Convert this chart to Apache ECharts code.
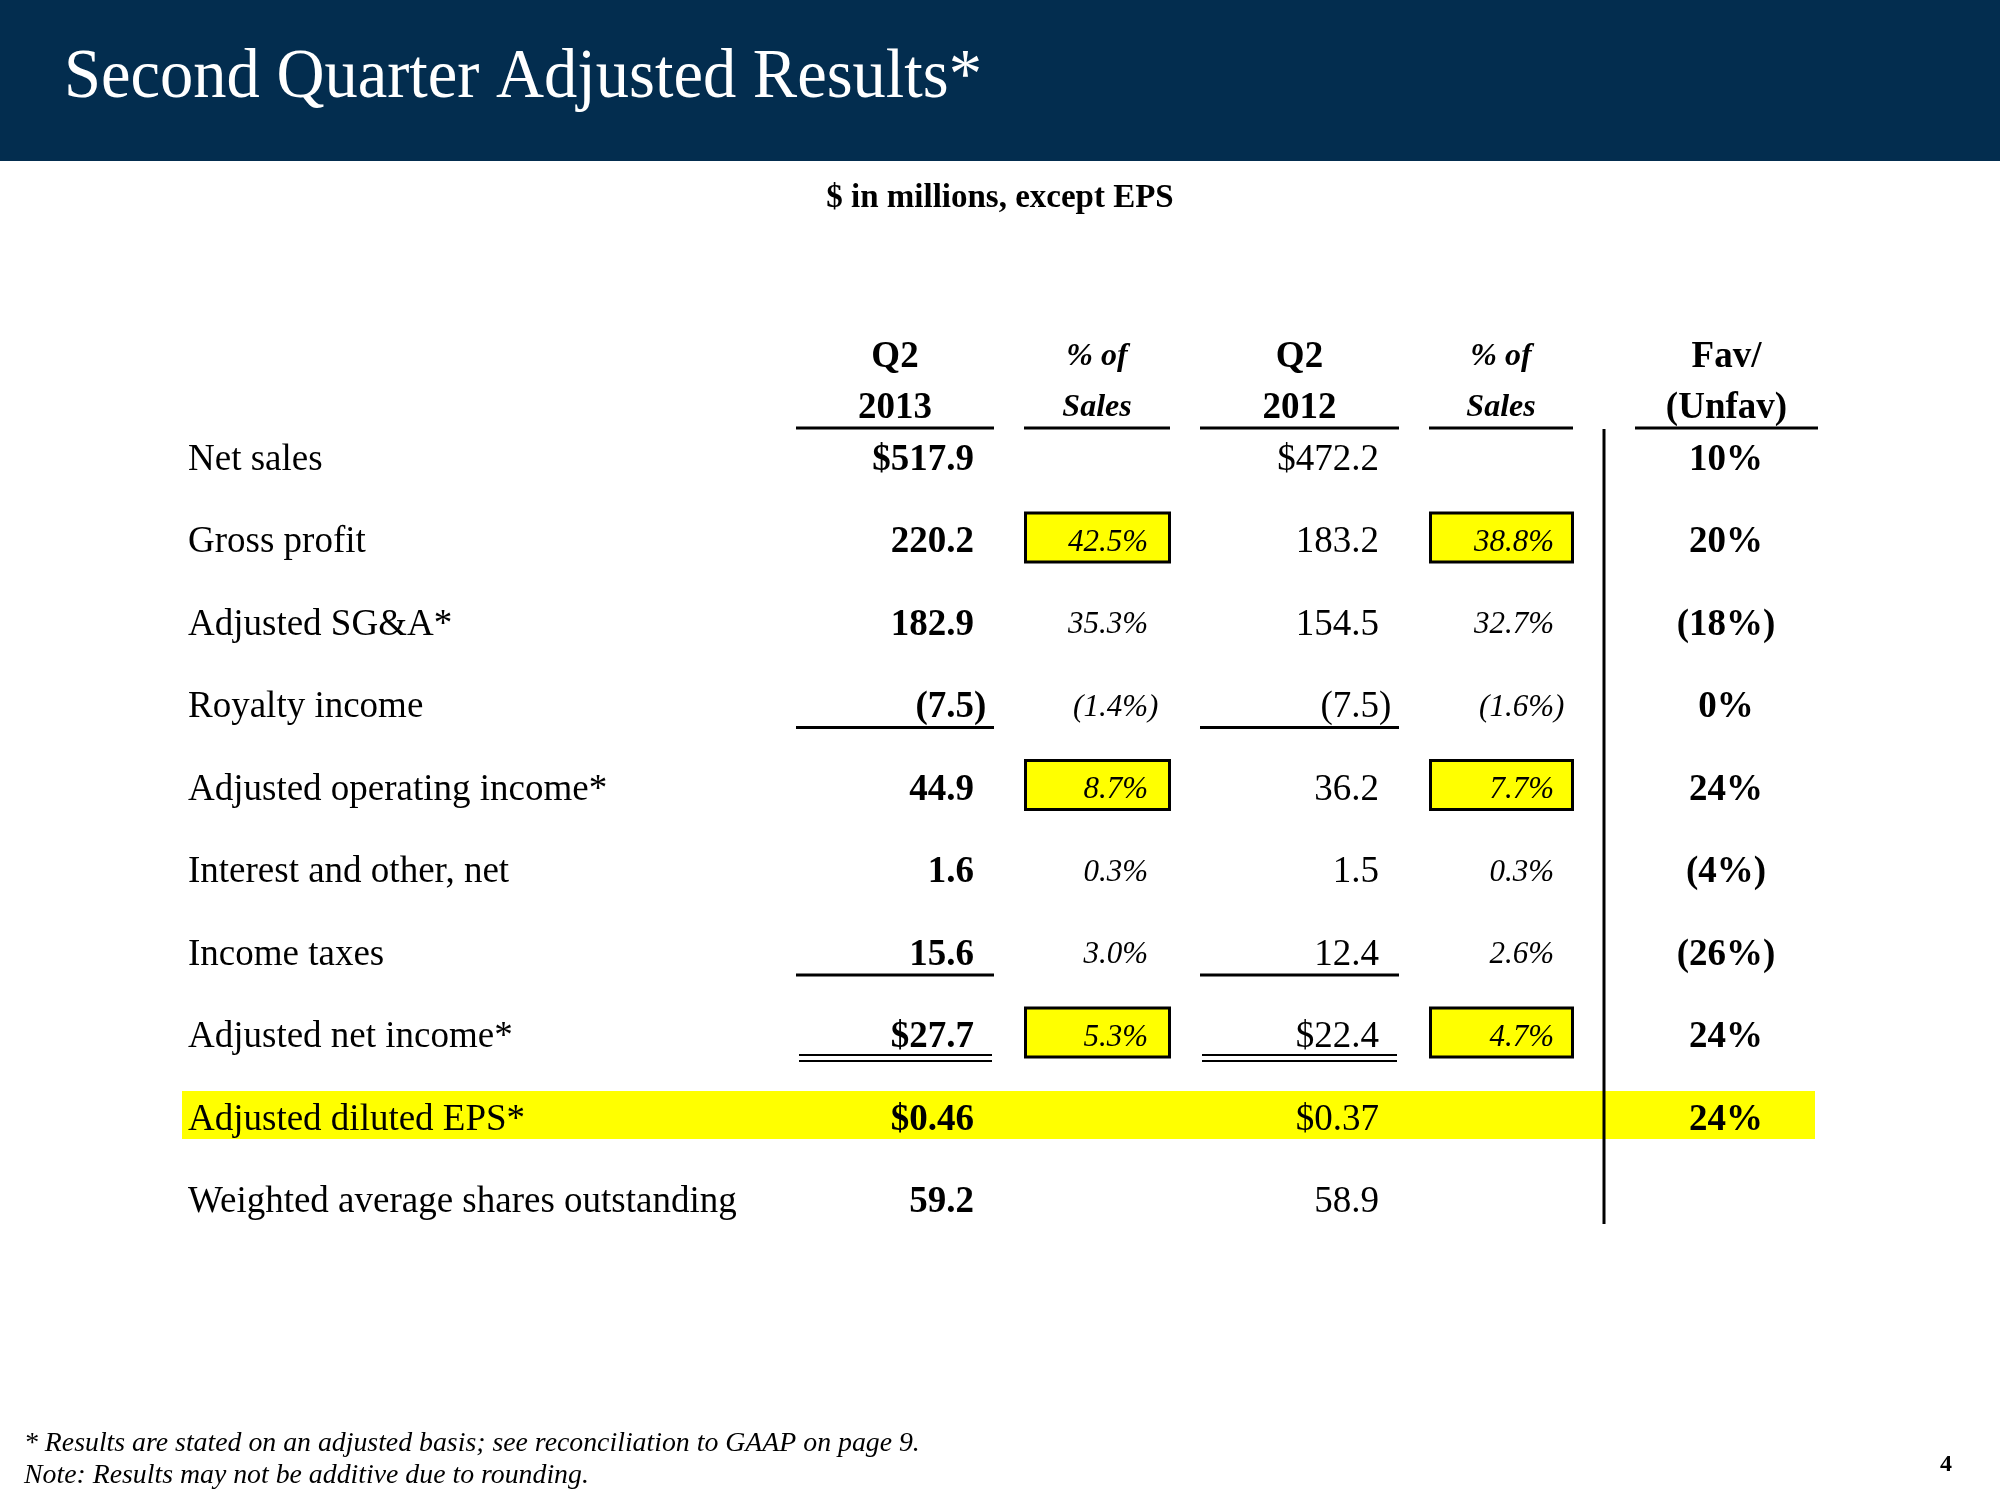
<!DOCTYPE html>
<html><head><meta charset="utf-8">
<script src="https://cdn.jsdelivr.net/npm/echarts@6/dist/echarts.min.js"></script>
<style>html,body{margin:0;padding:0;background:#fff}#c{width:2000px;height:1500px}</style>
</head><body><div id="c"></div>
<script>
// ---------- DATA ----------
const rowLabels = ['Net sales', 'Gross profit', 'Adjusted SG&A*', 'Royalty income',
  'Adjusted operating income*', 'Interest and other, net', 'Income taxes',
  'Adjusted net income*', 'Adjusted diluted EPS*', 'Weighted average shares outstanding'];
const q2013 = ['$517.9', '220.2', '182.9', '(7.5)', '44.9', '1.6', '15.6', '$27.7', '$0.46', '59.2'];
const pct2013 = ['', '42.5%', '35.3%', '(1.4%)', '8.7%', '0.3%', '3.0%', '5.3%', '', ''];
const q2012 = ['$472.2', '183.2', '154.5', '(7.5)', '36.2', '1.5', '12.4', '$22.4', '$0.37', '58.9'];
const pct2012 = ['', '38.8%', '32.7%', '(1.6%)', '7.7%', '0.3%', '2.6%', '4.7%', '', ''];
const favUnfav = ['10%', '20%', '(18%)', '0%', '24%', '(4%)', '(26%)', '24%', '24%', ''];
const columnHeaders = [['Q2', '2013'], ['% of', 'Sales'], ['Q2', '2012'], ['% of', 'Sales'], ['Fav/', '(Unfav)']];
const titleText = 'Second Quarter Adjusted Results*';
const subtitleText = '$ in millions, except EPS';
const footnotes = ['* Results are stated on an adjusted basis; see reconciliation to GAAP on page 9.',
  'Note: Results may not be additive due to rounding.'];
const pageNumber = '4';

// ---------- STYLE / LAYOUT ----------
const FF = "'Liberation Serif','Times New Roman',Times,serif";
const COL = { label: 188, q13: 974, p13: 1148, q12: 1379, p12: 1554, fav: 1726 };
const HEAD_SEG = [[796, 994], [1024, 1170], [1200, 1399], [1429, 1573], [1635, 1818]];
const BOXED = [1, 4, 7];
const SINGLE_RULE = [3, 6];
const DOUBLE_RULE = [7];
const BAND_ROW = 8;
const FS = 37, FS_PCT = 31;
const TY = 3; // text baseline nudge

function font(weight, style, size) { return style + ' ' + weight + ' ' + size + 'px ' + FF; }

function txt(x, y, text, f, align, size) {
  const off = (align === 'right' && /\)$/.test(text)) ? 0.333 * size : 0;
  return { type: 'text', x: x + off, y: y + TY, z2: 10,
    style: { text: text, font: f, fill: '#000', align: align, verticalAlign: 'middle',
      textAlign: align, textVerticalAlign: 'middle' } };
}

function renderRow(params, api) {
  const i = params.dataIndex;
  const cy = api.coord([0, i])[1];
  const X = k => api.coord([COL[k], i])[0];
  const children = [];
  if (i === BAND_ROW) {
    const x0 = api.coord([182, i])[0], x1 = api.coord([1815, i])[0];
    children.push({ type: 'rect', z2: 0, shape: { x: x0, y: cy - 26, width: x1 - x0, height: 48 },
      style: { fill: '#FFFF00' } });
  }
  if (BOXED.indexOf(i) >= 0) {
    [[1024, 1171], [1429, 1574]].forEach(s => {
      const a = api.coord([s[0], i])[0], b = api.coord([s[1], i])[0];
      children.push({ type: 'rect', z2: 1, shape: { x: a + 1.5, y: cy - 26.5, width: b - a - 3, height: 49 },
        style: { fill: '#FFFF00', stroke: '#000', lineWidth: 3 } });
    });
  }
  if (SINGLE_RULE.indexOf(i) >= 0) {
    [[796, 994], [1200, 1399]].forEach(s => {
      const a = api.coord([s[0], i])[0], b = api.coord([s[1], i])[0];
      children.push({ type: 'line', z2: 2, shape: { x1: a, y1: cy + 23, x2: b, y2: cy + 23 },
        style: { stroke: '#000', lineWidth: 3 } });
    });
  }
  if (DOUBLE_RULE.indexOf(i) >= 0) {
    [[799, 992], [1202, 1397]].forEach(s => {
      const a = api.coord([s[0], i])[0], b = api.coord([s[1], i])[0];
      [20.5, 26.5].forEach(d => children.push({ type: 'line', z2: 2,
        shape: { x1: a, y1: cy + d, x2: b, y2: cy + d }, style: { stroke: '#000', lineWidth: 2.2 } }));
    });
  }
  children.push(txt(X('label'), cy, rowLabels[i], font('normal', 'normal', FS), 'left', FS));
  if (q2013[i]) children.push(txt(X('q13'), cy, q2013[i], font('bold', 'normal', FS), 'right', FS));
  if (pct2013[i]) children.push(txt(X('p13'), cy, pct2013[i], font('normal', 'italic', FS_PCT), 'right', FS_PCT));
  if (q2012[i]) children.push(txt(X('q12'), cy, q2012[i], font('normal', 'normal', FS), 'right', FS));
  if (pct2012[i]) children.push(txt(X('p12'), cy, pct2012[i], font('normal', 'italic', FS_PCT), 'right', FS_PCT));
  if (favUnfav[i]) children.push(txt(X('fav'), cy, favUnfav[i], font('bold', 'normal', FS), 'center', FS));
  return { type: 'group', children: children };
}

function gtext(x, y, text, f, align, extra) {
  return Object.assign({ type: 'text', x: x, y: y, z: 1,
    style: { text: text, font: f, fill: '#000', align: align, verticalAlign: 'middle',
      textAlign: align, textVerticalAlign: 'middle' } }, extra || {});
}

// header graphics
const graphics = [
  { type: 'rect', shape: { x: 0, y: 0, width: 2000, height: 161 }, style: { fill: '#032D4F' }, z: 0 },
  { type: 'text', x: 64, y: 79, scaleX: 0.95, z: 1,
    style: { text: titleText, font: 'normal 70px ' + FF, fill: '#fff',
      align: 'left', verticalAlign: 'middle', textAlign: 'left', textVerticalAlign: 'middle' } },
  gtext(1000, 198, subtitleText, 'normal bold 33px ' + FF, 'center'),
  { type: 'line', shape: { x1: 1604, y1: 429, x2: 1604, y2: 1224 }, style: { stroke: '#000', lineWidth: 3 }, z: 50 },
  gtext(24, 1444, footnotes[0], 'italic normal 27.8px ' + FF, 'left'),
  gtext(24, 1476, footnotes[1], 'italic normal 27.8px ' + FF, 'left'),
  gtext(1946, 1465, pageNumber, 'normal bold 24px ' + FF, 'center')
];
columnHeaders.forEach((h, k) => {
  const seg = HEAD_SEG[k];
  const cx = (seg[0] + seg[1]) / 2;
  const isPct = (k === 1 || k === 3);
  const f = isPct ? 'italic bold 32px ' + FF : 'normal bold 37px ' + FF;
  [357, 408].forEach((y, j) => graphics.push(gtext(cx, y, h[j], f, 'center')));
  graphics.push({ type: 'line', shape: { x1: seg[0], y1: 428, x2: seg[1], y2: 428 },
    style: { stroke: '#000', lineWidth: 3 }, z: 1 });
});

const chart = echarts.init(document.getElementById('c'), null, { renderer: 'canvas' });
chart.setOption({
  animation: false,
  backgroundColor: '#ffffff',
  grid: { left: 0, width: 2000, top: 415.75, height: 825 },
  xAxis: { type: 'value', min: 0, max: 2000, show: false },
  yAxis: { type: 'category', data: rowLabels, inverse: true, show: false },
  graphic: graphics,
  series: [{
    type: 'custom', clip: false, silent: true,
    data: rowLabels.map((l, i) => [0, i]),
    encode: { x: 0, y: 1 },
    renderItem: renderRow
  }]
});
</script>
</body></html>
